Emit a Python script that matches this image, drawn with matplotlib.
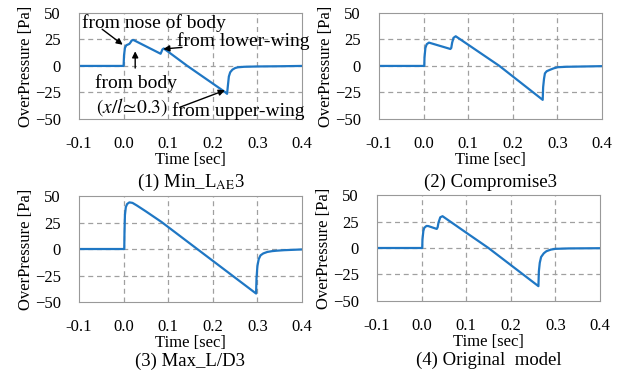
import matplotlib.pyplot as plt

plt.rcParams["font.family"] = ["Liberation Serif", "DejaVu Serif"]
plt.rcParams["mathtext.fontset"] = "stix"

# Datos (tiempo [s], sobrepresion [Pa])
t_min_lae = [-0.1, 0.0, 0.001, 0.003, 0.006, 0.013, 0.016, 0.018, 0.022, 0.083,
             0.085, 0.087, 0.090, 0.143, 0.227, 0.232, 0.234, 0.236, 0.239,
             0.244, 0.250, 0.256, 0.27, 0.30, 0.35, 0.4]
p_min_lae = [0, 0, 10, 17, 19.5, 20.8, 22.5, 24, 24.5, 11.5,
             13.5, 15.5, 16.5, 0, -24.5, -26.3, -18, -10, -6,
             -3.5, -2, -1.3, -0.8, -0.5, -0.3, 0]

t_compromise = [-0.1, 0.0015, 0.002, 0.004, 0.007, 0.012, 0.06, 0.062, 0.064,
                0.067, 0.072, 0.17, 0.267, 0.268, 0.270, 0.272, 0.276, 0.283,
                0.292, 0.301, 0.32, 0.36, 0.4]
p_compromise = [0, 0, 8, 17, 20.5, 22, 16, 17, 22,
                26.5, 28, 0, -32, -20, -12, -7, -5, -3.7,
                -2.2, -1.2, -0.8, -0.5, -0.2]

t_max_ld = [-0.1, 0.0015, 0.002, 0.003, 0.005, 0.008, 0.013, 0.02, 0.03, 0.05,
            0.085, 0.165, 0.297, 0.298, 0.300, 0.303, 0.307, 0.313, 0.322,
            0.333, 0.343, 0.36, 0.4]
p_max_ld = [0, 0, 15, 32, 39.5, 42.5, 44, 43.5, 41, 35.5,
            25.5, 0, -42, -28, -16, -9.5, -6, -4.2, -2.8,
            -2, -1.6, -1.1, -0.4]

t_original = [-0.1, 0.0015, 0.002, 0.004, 0.006, 0.011, 0.015, 0.034, 0.036,
              0.038, 0.042, 0.047, 0.1, 0.15, 0.262, 0.263, 0.265, 0.268,
              0.274, 0.28, 0.29, 0.30, 0.33, 0.4]
p_original = [0, 0, 8, 16, 19, 20.8, 20.7, 18, 19.5,
              24, 29, 30, 14.5, 0, -36, -22, -14, -8.5,
              -5, -3, -1.5, -0.8, -0.4, -0.2]

x_ticks = [-0.1, 0.0, 0.1, 0.2, 0.3, 0.4]
y_ticks = [-50, -25, 0, 25, 50]
titles = ["(1) Min_L$_{\\rm AE}$3", "(2) Compromise3", "(3) Max_L/D3",
          "(4) Original  model"]


# Dibuja un panel con su estilo
def draw_panel(ax, t, p, title, title_off):
    ax.plot(t, p, color="#1f77c4", lw=1.6)
    ax.set_xlim(-0.1, 0.4)
    ax.set_ylim(-50, 50)
    ax.set_xticks(x_ticks)
    ax.set_xticklabels(["%.1f" % v for v in x_ticks])
    ax.set_yticks(y_ticks)
    ax.tick_params(length=0, pad=12, labelsize=12)
    ax.tick_params(axis="y", pad=13)
    for s in ax.spines.values():
        s.set_color("#999999")
    # Rejilla solo en las lineas interiores
    for v in x_ticks[1:-1]:
        ax.axvline(v, color="#a0a0a0", lw=0.9, ls=(0, (4, 3)), zorder=0)
    for v in y_ticks[1:-1]:
        ax.axhline(v, color="#a0a0a0", lw=0.9, ls=(0, (4, 3)), zorder=0)
    ax.set_xlabel("Time [sec]", fontsize=12, labelpad=0)
    ax.set_ylabel("OverPressure [Pa]", fontsize=12, labelpad=1)
    ax.annotate(title, xy=(0.5, 0), xycoords="axes fraction",
                xytext=(0, -title_off), textcoords="offset points",
                ha="center", va="center", fontsize=13.5)


fig = plt.figure(figsize=(6.2, 3.74), dpi=100)
ax1 = fig.add_axes([0.1274, 0.682, 0.3597, 0.2834])
ax2 = fig.add_axes([0.6113, 0.682, 0.3597, 0.2834])
ax3 = fig.add_axes([0.1274, 0.1925, 0.3597, 0.2834])
ax4 = fig.add_axes([0.6080, 0.1952, 0.3597, 0.2834])

draw_panel(ax1, t_min_lae, p_min_lae, titles[0], 45.5)
draw_panel(ax2, t_compromise, p_compromise, titles[1], 45.5)
draw_panel(ax3, t_max_ld, p_max_ld, titles[2], 43)
draw_panel(ax4, t_original, p_original, titles[3], 43)

# Anotaciones del primer panel
arrow = dict(arrowstyle="-|>", color="black", lw=1, mutation_scale=9,
             shrinkA=0, shrinkB=0)
ax1.text(0.067, 40, "from nose of body", ha="center", va="center",
         fontsize=14)
ax1.annotate("", xy=(-0.002, 20), xytext=(-0.048, 34.6), arrowprops=arrow)
ax1.text(0.028, -16.6, "from body", ha="center", va="center", fontsize=14)
ax1.annotate("", xy=(0.026, 13.8), xytext=(0.026, -2), arrowprops=arrow)
ax1.text(0.020, -39, r"$(x/l\!\simeq\!0.3)$", ha="center", va="center",
         fontsize=14)
ax1.text(0.268, 23.4, "from lower-wing", ha="center", va="center",
         fontsize=14, clip_on=False)
ax1.annotate("", xy=(0.089, 16), xytext=(0.131, 17.5), arrowprops=arrow)
ax1.text(0.257, -42.3, "from upper-wing", ha="center", va="center",
         fontsize=14, clip_on=False)
ax1.annotate("", xy=(0.227, -23), xytext=(0.126, -39), arrowprops=arrow)

fig.savefig("out.png", dpi=100)
